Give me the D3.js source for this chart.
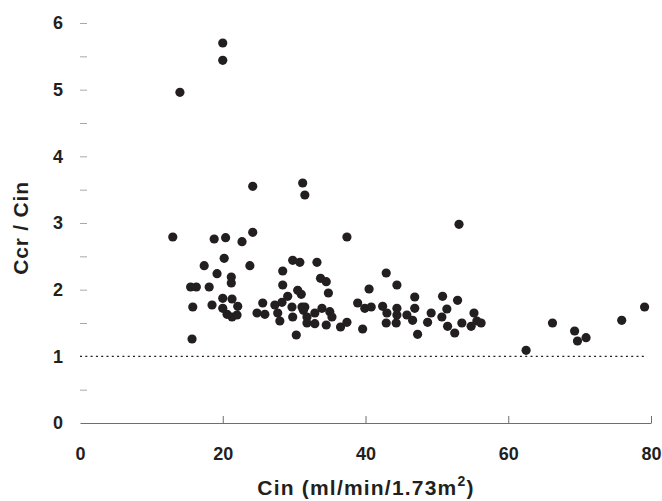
<!DOCTYPE html>
<html>
<head>
<meta charset="utf-8">
<script src="https://cdn.jsdelivr.net/npm/d3@7"></script>
<style>
  body { margin: 0; background: #fff; }
  text { font-family: "Liberation Sans", Arial, sans-serif; font-weight: bold; fill: #231f20; }
</style>
</head>
<body>
<div id="container"></div>
<script>
/* DATA */
const cin = [14.0, 20.0, 20.0, 13.0, 15.5, 16.3, 15.8, 15.7, 24.2, 31.2, 31.5, 24.2, 18.8, 20.4, 22.7,
  20.2, 17.4, 23.8, 19.2, 21.2, 21.2, 18.1, 20.0, 21.3, 18.5, 20.0, 22.1, 20.6, 21.3, 22.0,
  25.6, 24.8, 25.9, 27.3, 28.3, 29.1, 28.4, 28.4, 29.8, 30.8, 30.5, 31.0, 27.7, 28.0, 29.7,
  29.8, 31.1, 30.3, 37.4, 33.2, 33.7, 34.5, 34.8, 31.5, 31.3, 31.8, 32.9, 33.9, 35.0, 35.3,
  31.8, 32.9, 34.5, 36.5, 37.4, 38.9, 39.9, 40.8, 40.5, 42.9, 44.4, 42.4, 43.0, 44.4, 44.4,
  45.8, 42.9, 44.3, 39.6, 53.1, 46.9, 50.8, 52.9, 46.9, 46.6, 49.2, 51.4, 50.7, 48.7, 47.3,
  51.5, 52.5, 53.5, 54.8, 55.2, 55.6, 56.2, 66.2, 69.3, 69.7, 70.9, 62.5, 75.9, 79.1]
const ratio = [4.96, 5.70, 5.44, 2.79, 2.04, 2.04, 1.74, 1.26, 3.55, 3.60, 3.42, 2.86, 2.76, 2.78, 2.72,
  2.47, 2.36, 2.36, 2.24, 2.19, 2.10, 2.04, 1.87, 1.86, 1.77, 1.72, 1.75, 1.63, 1.59, 1.62,
  1.80, 1.65, 1.63, 1.77, 1.81, 1.90, 2.07, 2.28, 2.44, 2.41, 1.99, 1.93, 1.65, 1.53, 1.74,
  1.59, 1.74, 1.32, 2.79, 2.41, 2.17, 2.12, 1.95, 1.74, 1.69, 1.59, 1.65, 1.72, 1.67, 1.59,
  1.50, 1.49, 1.47, 1.44, 1.51, 1.80, 1.72, 1.74, 2.01, 2.25, 2.07, 1.75, 1.65, 1.72, 1.62,
  1.62, 1.50, 1.50, 1.41, 2.98, 1.89, 1.90, 1.84, 1.72, 1.54, 1.65, 1.71, 1.59, 1.51, 1.33,
  1.45, 1.35, 1.50, 1.45, 1.65, 1.53, 1.50, 1.50, 1.38, 1.23, 1.28, 1.09, 1.54, 1.74]
const xTicks = [0, 20, 40, 60, 80]
const yTicks = [0, 0.5, 1, 1.5, 2, 2.5, 3, 3.5, 4, 4.5, 5, 5.5, 6]
const refValue = 1

const data = cin.map((c, i) => ({ cin: c, ratio: ratio[i] }))

/* CONSTANTS */
const width = 662,
height = 501,
margin = { top: 23, bottom: 78, left: 80, right: 11 }

// SCALES
const xScale = d3.scaleLinear()
  .domain([0, 80])
  .range([margin.left, width - margin.right])

const yScale = d3.scaleLinear()
  .domain([0, 6])
  .range([height - margin.bottom, margin.top])

// SVG
const svg = d3.select("#container")
  .append("svg")
  .attr("width", width)
  .attr("height", height)

// X AXIS
const xAxis = d3.axisBottom(xScale)
  .tickValues(xTicks)
  .tickSizeInner(-7)
  .tickSizeOuter(0)
  .tickPadding(24)

const xAxisGroup = svg.append("g")
  .attr("transform", `translate(0, ${yScale(0)})`)
  .call(xAxis)
xAxisGroup.select(".domain").attr("stroke", "#6d6e71").attr("stroke-width", 1.2)
xAxisGroup.selectAll(".tick line").attr("stroke", "#6d6e71")
  .filter(d => d === 0).remove()
xAxisGroup.selectAll(".tick text")
  .style("font-size", "18px")
  .style("font-family", null)

// Y AXIS (ticks only)
const yAxis = d3.axisLeft(yScale)
  .tickValues(yTicks)
  .tickSize(7)
  .tickPadding(17)
  .tickFormat(d => Number.isInteger(d) ? d : "")

const yAxisGroup = svg.append("g")
  .attr("transform", `translate(${margin.left + 7}, 0)`)
  .call(yAxis)
yAxisGroup.select(".domain").remove()
yAxisGroup.selectAll(".tick line").attr("stroke", "#a7a9ac")
  .filter(d => d === 0 || d === refValue).remove()
yAxisGroup.selectAll(".tick text")
  .style("font-size", "18px")
  .style("font-family", null)

// REFERENCE LINE
svg.append("line")
  .attr("x1", xScale(0))
  .attr("x2", xScale(79))
  .attr("y1", yScale(refValue))
  .attr("y2", yScale(refValue))
  .attr("stroke", "#231f20")
  .attr("stroke-width", 1.3)
  .attr("stroke-dasharray", "2,3.3")

// POINTS
svg.selectAll("circle.pt")
  .data(data)
  .join("circle")
  .attr("class", "pt")
  .attr("cx", d => xScale(d.cin))
  .attr("cy", d => yScale(d.ratio))
  .attr("r", 4.6)
  .attr("fill", "#231f20")

// AXIS LABELS
const xLabel = svg.append("text")
  .attr("text-anchor", "middle")
  .attr("x", 366)
  .attr("y", 495)
  .style("font-size", "21px")
  .style("letter-spacing", "1.2px")

xLabel.append("tspan").text("Cin (ml/min/1.73m")
xLabel.append("tspan")
  .attr("dy", -9)
  .style("font-size", "14px")
  .text("2")
xLabel.append("tspan")
  .attr("dy", 9)
  .text(")")

svg.append("text")
  .attr("text-anchor", "middle")
  .attr("transform", "rotate(-90)")
  .attr("x", -228)
  .attr("y", 28)
  .style("font-size", "21px")
  .style("letter-spacing", "0.8px")
  .text("Ccr / Cin")
</script>
</body>
</html>
